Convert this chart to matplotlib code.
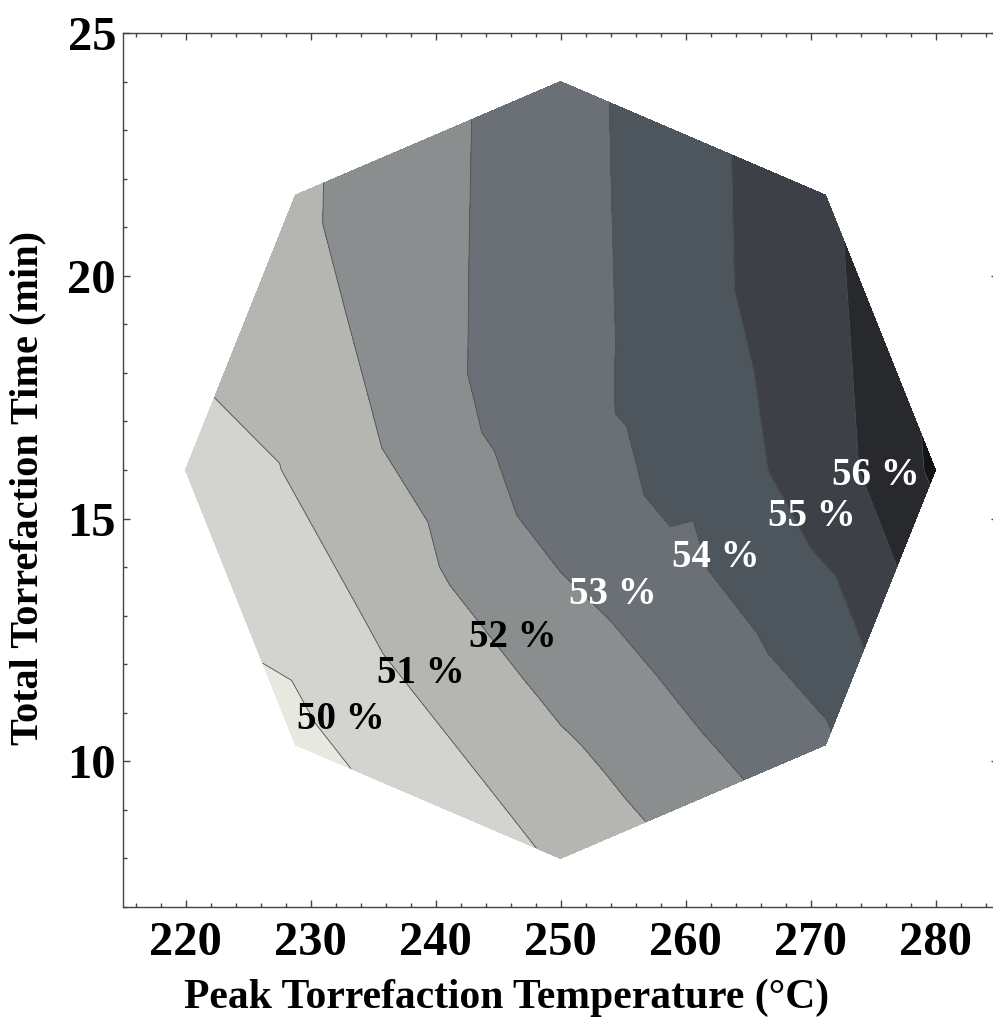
import matplotlib
matplotlib.use("Agg")
import matplotlib.pyplot as plt
import matplotlib.tri as mtri
from matplotlib.ticker import MultipleLocator

plt.rcParams['font.family'] = ['Liberation Serif', 'DejaVu Serif']
plt.rcParams['font.weight'] = 'bold'

temperature = [250.0,
               257.5, 265.0, 272.5, 276.25, 280.0,
               255.3, 260.61, 265.91, 271.21,
               250.0, 250.0, 250.0, 250.0,
               244.7, 239.39, 234.09, 228.79,
               242.5, 235.0, 227.5, 220.0,
               244.7, 239.39, 234.09, 228.79,
               250.0, 250.0, 250.0, 250.0,
               255.3, 260.61, 265.91, 271.21]
time = [16.0,
        16.0, 16.0, 16.0, 16.0, 16.0,
        17.41, 18.83, 20.24, 21.66,
        18.0, 20.0, 22.0, 24.0,
        17.41, 18.83, 20.24, 21.66,
        16.0, 16.0, 16.0, 16.0,
        14.59, 13.17, 11.76, 10.34,
        14.0, 12.0, 10.0, 8.0,
        14.59, 13.17, 11.76, 10.34]
yield_pct = [53.62,
             54.21, 54.80, 55.74, 56.45, 57.18,
             54.08, 54.65, 55.21, 55.77,
             53.64, 53.64, 53.64, 53.60,
             53.18, 52.73, 52.27, 51.81,
             52.78, 51.86, 50.98, 50.71,
             52.68, 51.67, 50.68, 49.70,
             53.03, 52.40, 51.76, 51.13,
             53.64, 53.70, 53.79, 53.83]

levels = [50, 51, 52, 53, 54, 55, 56, 57]
band_colors = ['#e7e9e1', '#d3d4cf', '#b5b6b2', '#8b8e8e', '#6a7076',
               '#4d565c', '#3d4147', '#27292c', '#131416']

label_values = [50, 51, 52, 53, 54, 55, 56]
label_temp = [232.4, 238.8, 246.2, 254.2, 262.4, 270.1, 275.2]
label_time = [10.87, 11.80, 12.56, 13.43, 14.19, 15.05, 15.88]
label_colors = ['black', 'black', 'black', 'white', 'white', 'white', 'white']

x_ticks = [220, 230, 240, 250, 260, 270, 280]
y_ticks = [10, 15, 20, 25]

fig = plt.figure(figsize=(9.93, 10.18), dpi=100)
ax = fig.add_axes([123 / 993, 111 / 1018, 875 / 993, 874 / 1018])

tri = mtri.Triangulation(temperature, time)
ax.tricontourf(tri, yield_pct, levels=[0] + levels + [100], colors=band_colors)
ax.tricontour(tri, yield_pct, levels=levels, colors='#4f5457', linewidths=0.6)

for v, tx, ty, c in zip(label_values, label_temp, label_time, label_colors):
    ax.text(tx, ty, f"{v} %", color=c, fontsize=28, fontweight='bold',
            ha='center', va='center')

ax.set_xlim(215, 285)
ax.set_ylim(7, 25)
ax.set_xticks(x_ticks)
ax.set_yticks(y_ticks)
ax.xaxis.set_minor_locator(MultipleLocator(2))
ax.yaxis.set_minor_locator(MultipleLocator(1))
ax.tick_params(which='both', direction='in', top=True, right=True,
               color='#444444', width=1, labelcolor='black')
ax.tick_params(which='major', length=5, labelsize=35)
ax.tick_params(which='minor', length=3)
ax.tick_params(axis='x', which='major', pad=10)
ax.tick_params(axis='y', which='major', pad=5)
for lab in ax.get_xticklabels() + ax.get_yticklabels():
    lab.set_fontweight('bold')
for sp in ax.spines.values():
    sp.set_color('#444444')
    sp.set_linewidth(1)

ax.set_xlabel('Peak Torrefaction Temperature (°C)', fontsize=30, fontweight='bold')
ax.set_ylabel('Total Torrefaction Time (min)', fontsize=29, fontweight='bold')
ax.xaxis.set_label_coords((507 - 123) / 875, -0.082)
ax.yaxis.set_label_coords(-0.087, 0.479)

fig.savefig('out.png', dpi=100)
